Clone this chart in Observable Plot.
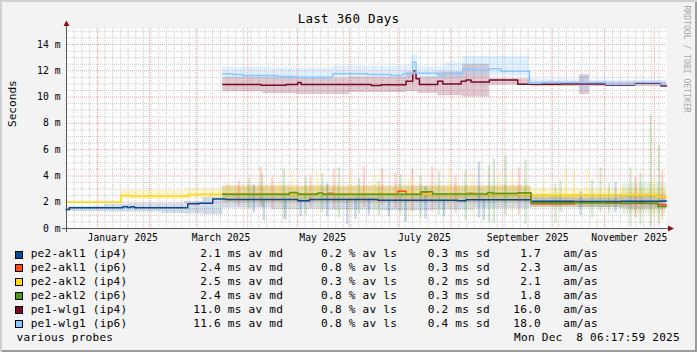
<!DOCTYPE html>
<html><head><meta charset="utf-8">
<script src="https://cdn.jsdelivr.net/npm/d3@7"></script>
<script src="https://cdn.jsdelivr.net/npm/@observablehq/plot@0.6"></script>
<style>
html,body{margin:0;padding:0;background:#f3f3f3;}
#wrap{position:relative;width:697px;height:352px;background:#f3f3f3;overflow:hidden;
  box-shadow: inset 2px 2px 0 #d0d0d0, inset -2px -2px 0 #9c9c9c;
  font-family:"DejaVu Sans Mono",monospace;color:#000;}
#wrap svg{position:absolute;left:0;top:0;}
.t{position:absolute;white-space:pre;}
.sw{position:absolute;width:6px;height:6px;border:1px solid #000;}
</style></head><body><div id="wrap"></div>
<script>
// ---------- data ----------
const seriesNames = ["pe2-akl1 (ip4)","pe2-akl1 (ip6)","pe2-akl2 (ip4)","pe2-akl2 (ip6)","pe1-wlg1 (ip4)","pe1-wlg1 (ip6)"];
const seriesColors = ["#0c4a8c","#ff4b14","#ffd814","#4e9a1c","#7a0a28","#8cc8ff"];
const avgMedian = [2.1, 2.4, 2.5, 2.4, 11.0, 11.6];
const avgLoss   = [0.2, 0.8, 0.3, 0.8, 0.8, 0.8];
const avgSd     = [0.3, 0.3, 0.2, 0.3, 0.2, 0.4];
const amas      = [1.7, 2.3, 2.1, 1.8, 16.0, 18.0];
const titleText = "Last 360 Days";
const yLabel = "Seconds";
const footLeft = "various probes";
const footRight = "Mon Dec  8 06:17:59 2025";
const watermark = "RRDTOOL / TOBI OETIKER";
const startTime = "2024-12-13T06:18:00Z";
const endTime = "2025-12-08T06:18:00Z";
const yTicks = [0,2,4,6,8,10,12,14];
const labelDates = ["2025-01-16","2025-03-16","2025-05-16","2025-07-16","2025-09-16","2025-11-16"];

// median step lines (change points)
const akl1v4Dates = ["2024-12-13","2024-12-15","2025-01-16","2025-01-19","2025-01-21","2025-01-23","2025-02-24","2025-03-03","2025-03-11","2025-03-19","2025-05-01","2025-05-08","2025-06-18","2025-08-05","2025-08-10","2025-09-18","2025-10-14","2025-11-11","2025-12-05",endTime];
const akl1v4Med   = [1.45,1.58,1.65,1.6,1.66,1.57,1.88,1.92,2.25,2.2,2.12,2.2,2.15,2.12,2.18,2.07,2.05,2.08,2.1,2.1];
const akl1v6Dates = ["2025-03-17","2025-05-19","2025-05-22","2025-06-30","2025-07-05","2025-07-15","2025-07-18","2025-08-11","2025-08-14","2025-09-10","2025-09-18","2025-10-14","2025-10-17","2025-11-11","2025-11-21","2025-11-24","2025-12-03",endTime];
const akl1v6Med   = [2.64,2.68,2.6,2.84,2.62,2.7,2.62,2.68,2.6,2.7,1.88,2.0,1.95,1.9,1.95,1.9,1.8,1.8];
const akl2v4Dates = ["2024-12-13","2025-01-15","2025-01-21","2025-02-24","2025-03-03","2025-03-19","2025-09-18","2025-12-03",endTime];
const akl2v4Med   = [2.0,2.52,2.45,2.58,2.6,2.62,2.56,2.4,2.4];
const akl2v6Dates = ["2025-03-17","2025-04-26","2025-05-01","2025-05-13","2025-05-16","2025-07-14","2025-07-21","2025-08-23","2025-08-26","2025-09-10","2025-09-18","2025-10-29","2025-11-02","2025-12-03",endTime];
const akl2v6Med   = [2.6,2.74,2.6,2.7,2.6,2.8,2.62,2.74,2.66,2.7,1.95,1.98,1.93,1.68,1.68];
const wlgv4Dates  = ["2025-03-17","2025-04-09","2025-04-24","2025-05-01","2025-05-03","2025-06-14","2025-06-20","2025-07-05","2025-07-09","2025-07-11","2025-07-13","2025-07-24","2025-07-27","2025-08-07","2025-08-10","2025-08-13","2025-08-24","2025-09-10","2025-10-06","2025-11-02","2025-11-19","2025-12-05",endTime];
const wlgv4Med    = [10.95,10.9,10.95,11.1,10.95,10.88,10.93,11.2,12.0,11.4,10.95,11.2,11.0,11.2,11.3,11.15,11.3,10.98,11.0,10.9,11.05,10.85,10.85];
const wlgv6Dates  = ["2025-03-17","2025-03-23","2025-03-29","2025-04-19","2025-05-01","2025-05-22","2025-06-12","2025-06-26","2025-07-03","2025-07-09","2025-07-11","2025-07-24","2025-07-28","2025-08-08","2025-08-14","2025-08-24","2025-08-31","2025-09-17","2025-09-24","2025-11-02","2025-11-19","2025-12-05",endTime];
const wlgv6Med    = [11.77,11.72,11.64,11.57,11.5,11.77,11.72,11.64,11.77,12.65,11.82,11.72,11.8,12.15,12.05,12.15,11.97,11.05,11.1,10.95,11.1,10.95,10.95];

// smoke bands (typical range)
const akl1v4BandDates = ["2024-12-13","2024-12-29","2025-01-05","2025-01-20","2025-02-08","2025-02-22","2025-03-05","2025-03-17","2025-04-15","2025-05-20","2025-06-20","2025-07-20","2025-08-15","2025-09-18","2025-10-15","2025-11-10",endTime];
const akl1v4Lo = [1.3,1.3,1.25,1.25,1.15,1.1,1.05,1.55,1.45,1.4,1.35,1.4,1.5,1.65,1.6,1.5,1.5];
const akl1v4Hi = [1.65,1.7,1.85,1.9,1.9,2.05,2.35,2.6,2.6,2.55,2.6,2.65,2.7,2.35,2.3,2.5,2.5];
const akl2v4BandDates = ["2024-12-13","2025-01-15","2025-02-24","2025-03-17","2025-09-18",endTime];
const akl2v4Lo = [1.95,2.2,2.3,2.2,2.3,2.3];
const akl2v4Hi = [2.1,2.9,3.0,3.2,3.0,3.0];
const akl1v6BandDates = ["2025-03-17","2025-09-18","2025-11-15",endTime];
const akl1v6Lo = [2.0,1.6,1.4,1.4];
const akl1v6Hi = [3.3,2.5,2.7,2.7];
const akl2v6BandDates = ["2025-03-17","2025-09-18","2025-11-12",endTime];
const akl2v6Lo = [2.0,1.5,1.1,1.1];
const akl2v6Hi = [3.2,2.6,3.4,3.4];
const wlgv4BandDates = ["2025-03-17","2025-04-10","2025-05-01","2025-06-01","2025-07-05","2025-07-12","2025-07-24","2025-08-08","2025-08-24","2025-09-18","2025-10-17","2025-10-23",endTime];
const wlgv4Lo = [10.4,10.25,10.2,10.35,10.4,10.3,10.1,10.0,10.9,10.8,10.2,10.8,10.8];
const wlgv4Hi = [11.5,11.5,11.45,11.5,11.9,11.5,11.9,12.5,11.4,11.15,11.7,11.15,11.15];
const wlgv6BandDates = ["2025-03-17","2025-04-15","2025-05-22","2025-07-05","2025-07-08","2025-07-12","2025-07-28","2025-08-08","2025-09-17","2025-10-17","2025-10-23",endTime];
const wlgv6Lo = [11.4,11.3,11.5,11.4,11.8,11.4,11.4,11.6,10.95,10.4,10.95,10.95];
const wlgv6Hi = [12.25,12.2,12.35,12.4,13.2,12.3,12.6,13.1,11.35,11.6,11.3,11.3];

// smoke spikes: date, series index, low, high
const spikeDates  = ["2025-03-21","2025-03-27","2025-04-02","2025-04-05","2025-04-09","2025-04-10","2025-04-11","2025-04-16","2025-04-20","2025-04-23","2025-04-24","2025-04-28","2025-05-03","2025-05-06","2025-05-09","2025-05-13","2025-05-16","2025-05-19","2025-05-23","2025-05-26","2025-05-31","2025-06-02","2025-06-05","2025-06-07","2025-06-10","2025-06-13","2025-06-17","2025-06-19","2025-06-21","2025-06-25","2025-06-29","2025-07-02","2025-07-05","2025-07-07","2025-07-09","2025-07-14","2025-07-17","2025-07-21","2025-07-25","2025-07-28","2025-07-31","2025-08-04","2025-08-10","2025-08-14","2025-08-18","2025-08-21","2025-08-24","2025-08-27","2025-08-30","2025-09-03","2025-09-07","2025-09-11","2025-09-15","2025-09-26","2025-10-03","2025-10-06","2025-10-09","2025-10-14","2025-10-18","2025-10-22","2025-10-25","2025-10-30","2025-11-04","2025-11-08","2025-11-12","2025-11-17","2025-11-20","2025-11-23","2025-11-29","2025-12-01","2025-12-04","2025-12-06"];
const spikeSeries = [2,1,3,0,1,3,0,1,2,3,0,2,0,3,1,2,3,0,1,3,0,2,0,3,1,0,2,3,1,0,1,3,0,2,1,3,0,1,3,0,2,1,3,2,0,0,3,3,2,3,2,1,3,2,3,3,2,2,0,2,3,3,3,0,2,3,1,3,3,2,3,1];
const spikeLo     = [1.8,1.7,1.5,1.2,1.7,1.6,0.6,1.5,1.3,0.6,0.7,1.4,0.9,1.0,1.6,1.1,1.2,0.9,1.5,0.8,0.3,1.2,0.7,1.1,1.6,1.0,1.4,1.0,1.8,0.9,1.5,1.1,0.5,0.9,1.3,0.8,0.7,1.2,1.0,0.9,1.5,1.2,0.6,1.0,0.8,0.6,0.5,0.4,1.5,1.0,1.2,1.0,0.3,1.6,0.4,1.2,1.8,1.7,1.0,1.6,0.8,1.2,1.1,1.2,1.6,0.1,0.8,0.2,0.1,1.0,0.3,0.6];
const spikeHi     = [3.5,3.6,3.8,3.3,4.66,4.2,2.1,3.9,3.6,4.5,2.2,4.3,2.2,3.9,4.0,4.3,4.2,3.4,4.5,4.6,2.2,4.4,2.3,3.8,4.7,2.3,4.1,3.6,4.5,2.2,4.2,4.1,2.2,3.8,4.5,4.0,3.2,4.7,4.3,2.2,4.5,4.0,4.4,4.2,5.05,2.2,4.8,5.3,4.3,5.5,4.4,4.6,5.2,3.6,3.4,3.6,4.5,4.3,2.8,4.5,3.7,4.6,3.4,3.5,3.3,4.6,3.9,4.2,8.6,3.8,6.3,4.4];

// ---------- build ----------
const P = s => new Date(s.length === 10 ? s + "T00:00:00Z" : s);
const t0 = P(startTime), t1 = P(endTime);
const steps = (d, v) => d.map((s, i) => ({date: P(s), v: v[i]}));
const band = (d, lo, hi) => d.map((s, i) => ({date: P(s), lo: lo[i], hi: hi[i]}));

const medians = [
  steps(akl1v4Dates, akl1v4Med), steps(akl1v6Dates, akl1v6Med),
  steps(akl2v4Dates, akl2v4Med), steps(akl2v6Dates, akl2v6Med),
  steps(wlgv4Dates, wlgv4Med), steps(wlgv6Dates, wlgv6Med)];
const bands = [
  band(akl1v4BandDates, akl1v4Lo, akl1v4Hi), band(akl1v6BandDates, akl1v6Lo, akl1v6Hi),
  band(akl2v4BandDates, akl2v4Lo, akl2v4Hi), band(akl2v6BandDates, akl2v6Lo, akl2v6Hi),
  band(wlgv4BandDates, wlgv4Lo, wlgv4Hi), band(wlgv6BandDates, wlgv6Lo, wlgv6Hi)];
const bandOpacity = [0.18, 0.13, 0.22, 0.12, 0.22, 0.26];
const DAY = 864e5;
const spikes = spikeDates.map((s, i) => ({x1: new Date(P(s) - 0.7*DAY), x2: new Date(+P(s) + 0.7*DAY), lo: spikeLo[i], hi: spikeHi[i], c: seriesColors[spikeSeries[i]]}));

const yMax = 15.217;
const minorY = d3.range(0.5, yMax, 0.5).filter(v => v % 2 !== 0);
const majorY = yTicks.filter(v => v > 0);
const majorX = d3.utcMonth.range(t0, t1);
const minorX = d3.range(1, 78).map(j => new Date(+t0 + j * (t1 - t0) / 78));

const chart = Plot.plot({
  width: 697, height: 245,
  marginLeft: 66, marginRight: 31, marginTop: 28, marginBottom: 17,
  style: {background: "transparent", fontFamily: "'DejaVu Sans Mono', monospace", fontSize: "9.72px", color: "#000", overflow: "visible"},
  x: {type: "utc", domain: [t0, t1]},
  y: {domain: [0, yMax]},
  marks: [
    Plot.frame({fill: "#fff", stroke: null}),
    Plot.ruleY(minorY, {stroke: "#cbcbcb", strokeDasharray: "1,1"}),
    Plot.ruleX(minorX, {stroke: "#cbcbcb", strokeDasharray: "1,1"}),
    Plot.ruleY(majorY, {stroke: "#f3a4a4", strokeDasharray: "1,1"}),
    Plot.ruleX(majorX, {stroke: "#f3a4a4", strokeDasharray: "1,1"}),
    ...bands.map((b, i) => Plot.areaY(b, {x: "date", y1: "lo", y2: "hi", curve: "step-after", fill: seriesColors[i], fillOpacity: bandOpacity[i]})),
    Plot.rectY(spikes, {x1: "x1", x2: "x2", y1: "lo", y2: "hi", fill: "c", fillOpacity: 0.22}),
    ...medians.map((m, i) => Plot.lineY(m, {x: "date", y: "v", curve: "step-after", stroke: seriesColors[i], strokeWidth: 1.5})),
    Plot.axisX(labelDates.map(P), {tickSize: 0, tickPadding: 6, tickFormat: d3.utcFormat("%B %Y"), label: null}),
    Plot.axisY(yTicks, {tickSize: 0, tickPadding: 6, tickFormat: d => d + " m", label: null}),
    Plot.text([yLabel], {frameAnchor: "left", rotate: -90, dx: -51, dy: -1.5, lineAnchor: "bottom", fontSize: 11.1, fill: "#000"}),
    Plot.text([watermark], {frameAnchor: "top-right", rotate: 90, dx: 17.5, dy: -23, textAnchor: "start", lineAnchor: "bottom", fontSize: 8.1, fill: "#a8a8a8"})
  ]
});

// axis lines and arrows from the scales
const xs = chart.scale("x"), ys = chart.scale("y");
const [xL, xR] = xs.range, [yB, yT] = ys.range;
const g = d3.select(chart).append("g");
g.append("line").attr("x1", xL - 4).attr("x2", xR + 3).attr("y1", yB + 0.5).attr("y2", yB + 0.5).attr("stroke", "#555");
g.append("line").attr("x1", xL + 0.5).attr("x2", xL + 0.5).attr("y1", yB + 4).attr("y2", yT - 3).attr("stroke", "#555");
g.append("path").attr("d", `M${xR + 2},${yB - 2.5}L${xR + 8},${yB + 0.5}L${xR + 2},${yB + 3.5}Z`).attr("fill", "#8b1010");
g.append("path").attr("d", `M${xL - 2.5},${yT - 2}L${xL + 0.5},${yT - 7.5}L${xL + 3.5},${yT - 2}Z`).attr("fill", "#8b1010");

const wrap = document.getElementById("wrap");
wrap.appendChild(chart);

function addText(txt, x, base, fs, ls, extra) {
  const d = document.createElement("div");
  d.className = "t";
  d.textContent = txt;
  d.style.left = x + "px";
  d.style.top = (base - 0.846 * fs) + "px";
  d.style.fontSize = fs + "px";
  d.style.lineHeight = fs + "px";
  d.style.letterSpacing = ls + "px";
  if (extra) Object.assign(d.style, extra);
  wrap.appendChild(d);
  return d;
}
// title
addText(titleText, 0, 24, 12.5, 0.3, {width: "697px", textAlign: "center"});
// legend
const LFS = 11.1, LLS = 0.23, lBase = 257.5, lStep = 13.9;
seriesNames.forEach((name, i) => {
  const b = lBase + i * lStep;
  const sw = document.createElement("div");
  sw.className = "sw";
  sw.style.left = "15px"; sw.style.top = (b - 7) + "px";
  sw.style.background = seriesColors[i];
  wrap.appendChild(sw);
  addText(name, 30.7, b, LFS, LLS);
  addText(avgMedian[i].toFixed(1).padStart(4) + " ms av md", 193.3, b, LFS, LLS);
  addText(avgLoss[i].toFixed(1).padStart(4) + " % av ls", 314.2, b, LFS, LLS);
  addText(avgSd[i].toFixed(1).padStart(4) + " ms sd", 420.8, b, LFS, LLS);
  addText(amas[i].toFixed(1).padStart(4), 513.3, b, LFS, LLS);
  addText("am/as", 563.3, b, LFS, LLS);
});
const fb = lBase + 6 * lStep;
addText(footLeft, 16.5, fb, LFS, LLS);
addText(footRight, 680 - footRight.length * (LFS * 0.602 + LLS), fb, LFS, LLS);
</script></body></html>
